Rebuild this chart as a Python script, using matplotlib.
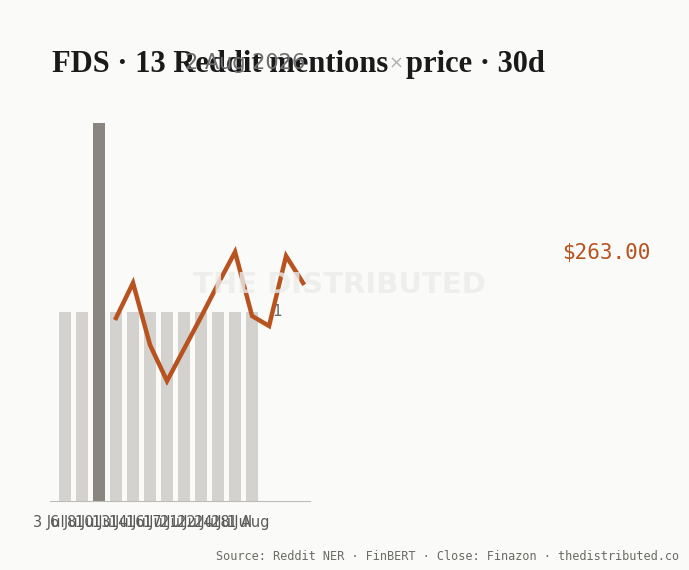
import matplotlib
matplotlib.use("Agg")
import matplotlib.pyplot as plt

# mentions per day (bars) and closing prices (line)
bar_dates = ["3 Jul", "6 Jul", "8 Jul", "10 Jul", "13 Jul", "14 Jul",
             "16 Jul", "17 Jul", "21 Jul", "22 Jul", "24 Jul", "28 Jul"]
mentions = [1, 1, 2, 1, 1, 1, 1, 1, 1, 1, 1, 1]
tick_labels = bar_dates + ["1 Aug"]
price_idx = [3, 4, 5, 6, 7, 8, 9, 10, 11, 12, 13, 14]
prices = [256.0, 263.0, 250.6, 243.4, 249.8, 256.2, 262.8, 269.2,
          256.4, 254.4, 268.4, 263.0]
last_price = "$263.00"

bg = "#fafaf8"
fig = plt.figure(figsize=(6.89, 5.70), dpi=100, facecolor=bg)
ax = fig.add_axes([0.0726, 0.1211, 0.3774, 0.7035])
ax.set_facecolor(bg)

peak = max(mentions)
colors = ["#8a857e" if m == peak else "#d3d2ce" for m in mentions]
ax.bar(range(len(mentions)), mentions, width=0.7, color=colors, zorder=2)
ax.set_ylim(0, 2.12)
ax.set_xlim(-0.88, 14.41)
ax.set_yticks([])
for s in ["top", "right", "left"]:
    ax.spines[s].set_visible(False)
ax.spines["bottom"].set_color("#bdbcb8")
ax.set_xticks(range(len(tick_labels)))
ax.set_xticklabels(tick_labels, ha="right", fontsize=10.5, color="#5a5a5a")
ax.tick_params(axis="x", length=0, pad=10)

ax.text(12.2, 1.0, "1", fontsize=11, color="#666666", va="center", ha="left")

ax2 = ax.twinx()
ax2.plot(price_idx, prices, color="#b8521f", lw=3.2, zorder=4,
         solid_joinstyle="miter")
ax2.set_ylim(219.4, 299.6)
ax2.axis("off")

fig.text(0.493, 0.50, "THE DISTRIBUTED", fontsize=21, fontweight="bold",
         color="#ebebe9", alpha=0.8, ha="center", va="center", zorder=0)

fig.text(651 / 689, 1 - 253 / 570, last_price, fontsize=15,
         family="DejaVu Sans Mono", color="#b8521f", ha="right", va="center")

fig.text(52 / 689, 1 - 72 / 570, "FDS · 13 Reddit mentions", fontsize=22,
         family="Liberation Serif", fontweight="bold", color="#1a1a1a",
         ha="left", va="baseline")
fig.text(396 / 689, 1 - 69 / 570, "×", fontsize=13, color="#b0b0b0",
         ha="center", va="baseline")
fig.text(406 / 689, 1 - 72 / 570, "price · 30d", fontsize=22,
         family="Liberation Serif", fontweight="bold", color="#1a1a1a",
         ha="left", va="baseline")
fig.text(245 / 689, 1 - 63 / 570, "2 Aug 2026", fontsize=15, color="#6e6e6e",
         ha="center", va="center")

fig.text(679 / 689, 1 - 556 / 570,
         "Source: Reddit NER · FinBERT · Close: Finazon · thedistributed.co",
         fontsize=8.6, family="DejaVu Sans Mono", color="#6a6a66",
         ha="right", va="center")

fig.savefig("out.png", dpi=100, facecolor=bg)
